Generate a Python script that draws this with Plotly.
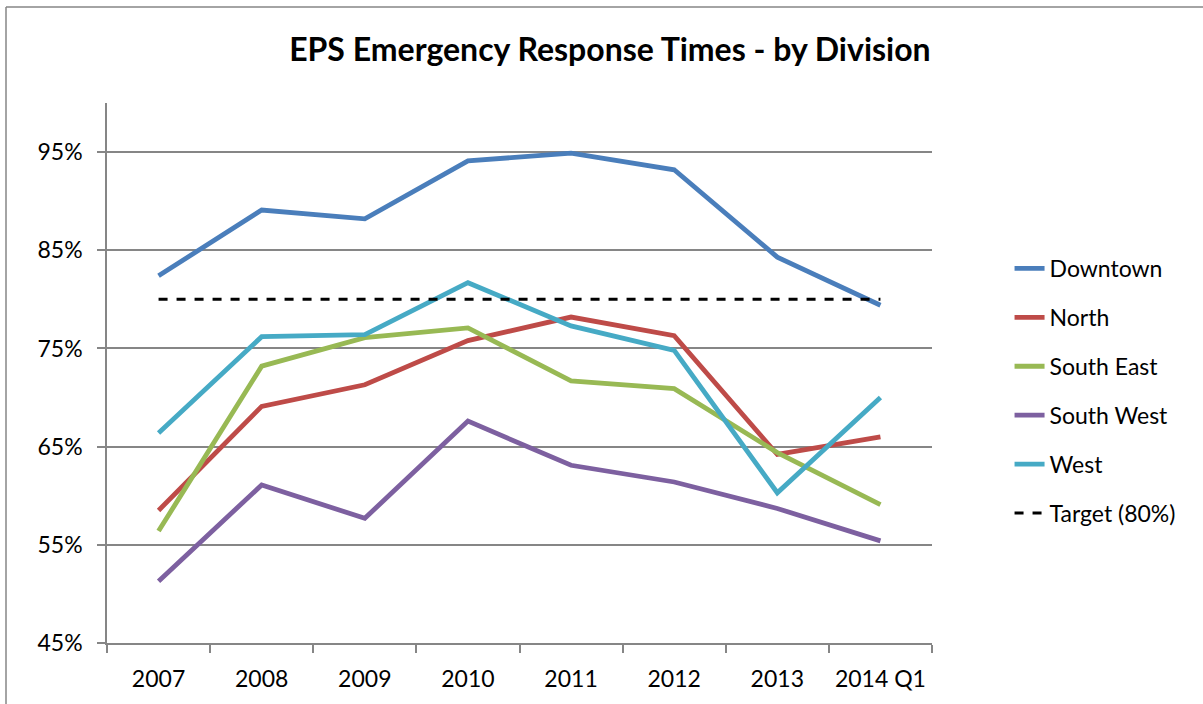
import plotly.graph_objects as go

categories = ["2007", "2008", "2009", "2010", "2011", "2012", "2013", "2014 Q1"]
downtown = [82.4, 89.1, 88.2, 94.1, 94.9, 93.2, 84.3, 79.4]
north = [58.5, 69.1, 71.3, 75.8, 78.2, 76.3, 64.2, 66.0]
south_east = [56.4, 73.2, 76.1, 77.1, 71.7, 70.9, 64.4, 59.1]
south_west = [51.3, 61.1, 57.7, 67.6, 63.1, 61.4, 58.7, 55.4]
west = [66.4, 76.2, 76.4, 81.7, 77.3, 74.8, 60.3, 70.0]
target = [80, 80, 80, 80, 80, 80, 80, 80]

series = [
    ("Downtown", downtown, "#4A7EBB", "solid", 4.8),
    ("North", north, "#BE4B48", "solid", 4.8),
    ("South East", south_east, "#98B954", "solid", 4.8),
    ("South West", south_west, "#7D60A0", "solid", 4.8),
    ("West", west, "#46AAC5", "solid", 4.8),
    ("Target (80%)", target, "#000000", "dash", 3),
]

FONT = "Lato, 'Open Sans', sans-serif"

fig = go.Figure()
for name, vals, color, dash, w in series:
    fig.add_trace(go.Scatter(
        x=categories, y=vals, name=name, mode="lines", legendgroup=name,
        line=dict(color=color, width=w, dash=dash),
    ))

fig.update_layout(
    width=1203, height=704,
    margin=dict(l=107, r=271, t=103, b=61),
    paper_bgcolor="white", plot_bgcolor="white",
    font=dict(family=FONT, size=23, color="#000000"),
    title=dict(text="<b>EPS Emergency Response Times - by Division</b>",
               x=0.507, xanchor="center", y=0.929, yanchor="middle",
               font=dict(family=FONT, size=32, color="#000000")),
    legend=dict(x=1.094, xanchor="left", y=0.4667, yanchor="middle",
                font=dict(family=FONT, size=23),
                tracegroupgap=16, itemwidth=30,
                bgcolor="rgba(0,0,0,0)"),
    showlegend=True,
    shapes=[
        dict(type="line", xref="paper", yref="paper",
             x0=(6 - 107) / 825, x1=(1210 - 107) / 825,
             y0=(643 - 7) / 540, y1=(643 - 7) / 540,
             line=dict(color="#868686", width=1.5)),
        dict(type="line", xref="paper", yref="paper",
             x0=(6 - 107) / 825, x1=(6 - 107) / 825,
             y0=(643 - 7) / 540, y1=(643 - 710) / 540,
             line=dict(color="#868686", width=1.5)),
    ],
)

fig.update_xaxes(
    type="category", range=[-0.5, 7.5],
    showline=True, linecolor="#868686", linewidth=1.5,
    ticks="outside", tickson="boundaries", ticklen=8, tickcolor="#868686", tickwidth=1.5,
    showgrid=False, zeroline=False, ticklabelstandoff=15,
    tickfont=dict(family=FONT, size=23),
)
fig.update_yaxes(
    range=[45, 100], tick0=45, dtick=10, ticksuffix="%",
    showline=True, linecolor="#868686", linewidth=1.5,
    ticks="outside", ticklen=8, tickcolor="#868686", tickwidth=1.5,
    showgrid=True, gridcolor="#868686", gridwidth=1.5, zeroline=False,
    ticklabelstandoff=10,
    tickfont=dict(family=FONT, size=23),
)

fig.write_html("out.html", config={"displayModeBar": False},
               post_script="document.body.style.margin='0';")
